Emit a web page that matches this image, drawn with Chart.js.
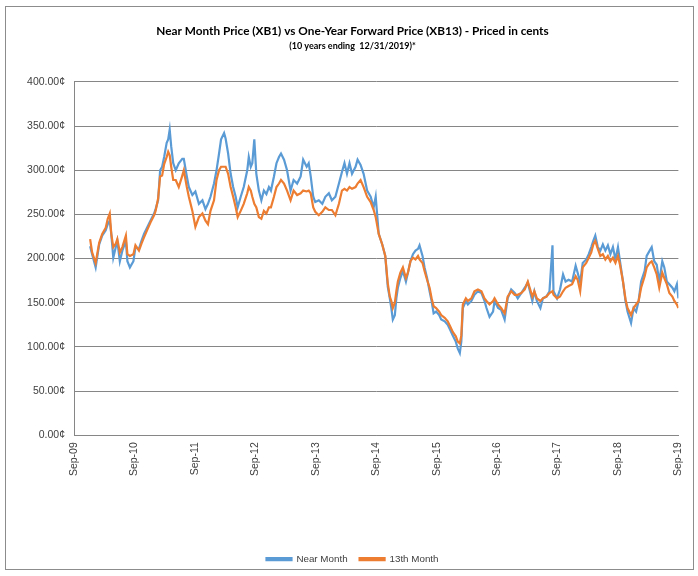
<!DOCTYPE html>
<html>
<head>
<meta charset="utf-8">
<script src="https://cdn.jsdelivr.net/npm/chart.js@4.4.1/dist/chart.umd.min.js"></script>
<style>
  html, body { margin: 0; padding: 0; background: #fff; }
  #wrap { width: 698px; height: 576px; }
</style>
</head>
<body>
<div id="wrap"><canvas id="chart"></canvas></div>
<script>
// months after 1 Sep 2009
const months = [
    3.2, 3.6, 4.3, 5.0, 5.6, 6.3, 6.7, 7.1, 7.4, 7.8,
    8.3, 8.6, 9.1, 9.6, 10.3, 10.6, 11.1, 11.8, 12.2, 12.9,
    13.4, 13.9, 14.5, 15.2, 15.9, 16.2, 16.7, 17.1, 17.5, 17.9,
    18.4, 18.7, 19.0, 19.3, 19.7, 20.2, 20.8, 21.5, 21.8, 22.4,
    22.8, 23.5, 24.1, 24.8, 25.5, 26.1, 26.6, 27.1, 27.8, 28.3,
    28.8, 29.2, 29.8, 30.1, 30.6, 31.1, 31.6, 32.1, 32.5, 33.1,
    33.7, 34.4, 34.7, 35.1, 35.4, 35.8, 36.2, 36.7, 37.2, 37.7,
    38.2, 38.7, 39.1, 39.7, 40.2, 40.7, 41.1, 41.7, 42.3, 43.0,
    43.6, 44.3, 45.0, 45.5, 46.2, 46.6, 47.0, 47.5, 47.9, 48.6,
    49.3, 49.9, 50.6, 51.2, 51.9, 52.6, 53.2, 53.7, 54.2, 54.7,
    55.2, 55.9, 56.3, 56.9, 57.5, 58.2, 58.9, 59.5, 59.9, 60.5,
    61.2, 61.8, 62.3, 62.7, 63.0, 63.3, 63.7, 64.0, 64.3, 64.8,
    65.3, 65.9, 66.3, 66.8, 67.3, 67.8, 68.3, 68.6, 69.2, 69.6,
    70.1, 70.6, 71.0, 71.4, 71.9, 72.5, 72.9, 73.6, 74.2, 74.7,
    75.2, 75.8, 76.2, 76.6, 76.9, 77.2, 77.8, 78.2, 78.9, 79.5,
    80.2, 80.9, 81.5, 81.9, 82.5, 83.2, 83.5, 84.2, 84.8, 85.5,
    86.1, 86.8, 87.5, 88.1, 88.8, 89.5, 90.1, 91.0, 91.4, 91.9,
    92.6, 93.1, 93.8, 94.4, 95.0, 95.2, 95.9, 96.5, 97.1, 97.6,
    98.2, 98.9, 99.6, 100.0, 100.5, 101.0, 101.7, 102.2, 102.7, 103.1,
    103.5, 104.0, 104.5, 105.0, 105.5, 106.0, 106.5, 107.0, 107.5, 108.0,
    108.4, 109.0, 109.5, 109.9, 110.6, 111.1, 111.6, 112.1, 112.6, 113.3,
    113.7, 114.3, 114.7, 115.2, 115.7, 116.2, 116.8, 117.2, 117.7, 118.2,
    118.8, 119.2, 119.7, 120.0
];

const nearMonth = [
    214, 205, 190, 216, 226, 232, 239, 243, 228, 201,
    213, 220, 197, 209, 220, 197, 190, 197, 213, 211,
    220, 228, 235, 243, 251, 256, 266, 300, 304, 315,
    331, 335, 346, 327, 308, 300, 308, 313, 313, 293,
    281, 272, 276, 262, 266, 256, 262, 270, 285, 300,
    319, 335, 342, 336, 319, 296, 281, 270, 258, 270,
    281, 300, 315, 304, 308, 335, 296, 277, 266, 277,
    273, 281, 277, 293, 308, 315, 319, 312, 300, 277,
    289, 285, 293, 312, 304, 308, 293, 270, 264, 266,
    262, 270, 274, 266, 270, 285, 298, 308, 296, 308,
    296, 304, 312, 306, 296, 277, 270, 258, 270, 228,
    216, 203, 168, 155, 144, 131, 136, 155, 167, 178,
    186, 174, 184, 197, 205, 209, 211, 215, 203, 190,
    178, 163, 152, 138, 140, 136, 131, 129, 125, 119,
    113, 106, 98, 93, 106, 144, 152, 148, 152, 159,
    163, 161, 152, 144, 134, 140, 152, 144, 142, 131,
    155, 165, 161, 155, 161, 167, 173, 152, 163, 152,
    144, 155, 157, 163, 215, 163, 155, 165, 182, 174,
    176, 174, 192, 184, 173, 195, 199, 205, 213, 220,
    226, 213, 209, 216, 209, 215, 205, 213, 199, 213,
    197, 174, 152, 140, 127, 144, 140, 152, 174, 186,
    203, 209, 213, 197, 193, 174, 197, 190, 174, 171,
    167, 163, 171, 155
];

const thirteenthMonth = [
    222, 207, 195, 218, 228, 235, 245, 251, 228, 213,
    217, 222, 207, 213, 226, 205, 203, 205, 215, 209,
    217, 224, 232, 241, 249, 254, 268, 293, 294, 307,
    315, 321, 317, 304, 289, 289, 281, 294, 300, 281,
    270, 254, 236, 247, 251, 243, 239, 254, 266, 289,
    300, 304, 304, 304, 296, 281, 270, 258, 247, 254,
    262, 274, 281, 277, 270, 262, 258, 247, 245, 254,
    251, 258, 258, 270, 281, 285, 289, 285, 277, 266,
    277, 272, 274, 277, 276, 277, 274, 258, 253, 249,
    253, 258, 255, 255, 249, 262, 277, 279, 277, 281,
    279, 281, 285, 289, 281, 270, 264, 255, 247, 228,
    216, 203, 172, 157, 152, 144, 150, 163, 174, 184,
    190, 178, 184, 197, 201, 199, 203, 199, 195, 186,
    176, 167, 155, 146, 144, 140, 136, 133, 129, 123,
    117, 112, 106, 104, 113, 148, 155, 152, 155, 163,
    165, 163, 155, 152, 148, 152, 155, 148, 144, 138,
    157, 163, 159, 159, 161, 165, 174, 157, 163, 155,
    152, 155, 157, 161, 163, 159, 155, 157, 163, 167,
    169, 171, 180, 176, 163, 190, 195, 201, 207, 216,
    220, 211, 203, 205, 199, 203, 197, 201, 195, 203,
    193, 174, 154, 144, 136, 144, 148, 152, 167, 180,
    190, 195, 197, 190, 182, 167, 184, 178, 171, 161,
    157, 152, 148, 144
];

const tickLabels = ['Sep-09', 'Sep-10', 'Sep-11', 'Sep-12', 'Sep-13', 'Sep-14',
                    'Sep-15', 'Sep-16', 'Sep-17', 'Sep-18', 'Sep-19'];

const toPoints = values => values.map((v, i) => ({ x: months[i], y: v }));

// white background + thin frame round the whole chart
const frame = {
    id: 'frame',
    beforeDraw(chart) {
        const ctx = chart.ctx;
        ctx.save();
        ctx.fillStyle = '#fff';
        ctx.fillRect(0, 0, chart.width, chart.height);
        ctx.strokeStyle = '#8c8c8c';
        ctx.lineWidth = 1;
        ctx.strokeRect(5.5, 6.5, 688, 563);
        ctx.restore();
    }
};

Chart.defaults.font.family = "'Liberation Sans', Arial, sans-serif";
Chart.defaults.color = '#404040';

new Chart(document.getElementById('chart'), {
    type: 'line',
    data: {
        datasets: [{
            label: 'Near Month',
            data: toPoints(nearMonth),
            borderColor: '#5b9bd5',
            backgroundColor: '#5b9bd5',
            borderWidth: 2.2,
            pointRadius: 0,
            tension: 0,
            order: 2
        }, {
            label: '13th Month',
            data: toPoints(thirteenthMonth),
            borderColor: '#ed7d31',
            backgroundColor: '#ed7d31',
            borderWidth: 2.2,
            pointRadius: 0,
            tension: 0,
            order: 1
        }]
    },
    options: {
        responsive: true,
        maintainAspectRatio: false,
        animation: false,
        layout: { padding: { left: 26, right: 19, top: 0, bottom: 2 } },
        plugins: {
            title: {
                display: true,
                text: 'Near Month Price (XB1) vs One-Year Forward Price (XB13) - Priced in cents',
                color: '#000',
                font: { family: 'Lato', size: 11.8, weight: 'bold' },
                padding: { top: 24, bottom: 3 }
            },
            subtitle: {
                display: true,
                text: '(10 years ending  12/31/2019)*',
                color: '#000',
                font: { family: 'Lato', size: 9, weight: 'bold' },
                padding: { top: 0, bottom: 30 }
            },
            legend: {
                position: 'bottom',
                labels: {
                    boxWidth: 25,
                    boxHeight: 2,
                    padding: 12,
                    color: '#404040',
                    font: { size: 9.8 },
                    sort: (a, b) => a.datasetIndex - b.datasetIndex
                }
            },
            tooltip: { enabled: false }
        },
        scales: {
            x: {
                type: 'linear',
                min: 0,
                max: 120,
                afterFit: scale => { scale.height = 107; },
                ticks: {
                    stepSize: 12,
                    autoSkip: false,
                    minRotation: 90,
                    maxRotation: 90,
                    padding: 7,
                    font: { size: 10.5 },
                    callback: value => tickLabels[value / 12] ?? ''
                },
                grid: { display: false, drawTicks: false },
                border: { display: true, color: '#868686' }
            },
            y: {
                min: 0,
                max: 400,
                afterFit: scale => { scale.width = 48; },
                ticks: {
                    stepSize: 50,
                    padding: 9,
                    font: { size: 10.5 },
                    callback: value => value.toFixed(2) + '¢'
                },
                grid: { color: '#868686', drawTicks: false },
                border: { display: true, color: '#868686' }
            }
        }
    },
    plugins: [frame]
});
</script>
</body>
</html>
